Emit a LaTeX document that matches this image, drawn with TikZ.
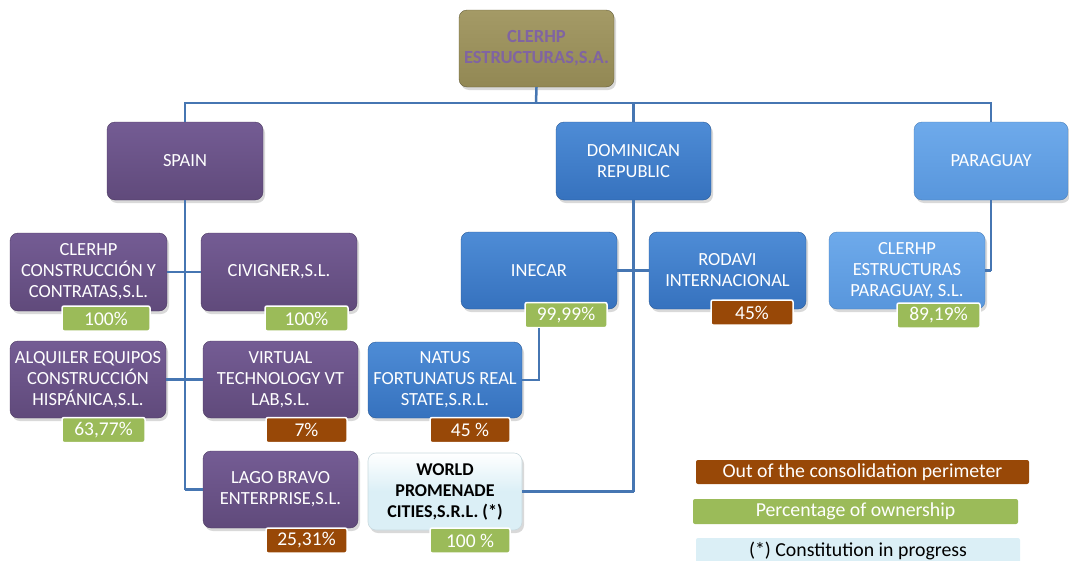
\documentclass[tikz,border=0pt]{standalone}
\usepackage{fontspec}
\setmainfont{Carlito}
\usetikzlibrary{shadows}
\definecolor{purp}{RGB}{96,74,123}
\definecolor{purptop}{RGB}{116,92,148}
\definecolor{blu}{RGB}{54,114,190}
\definecolor{blutop}{RGB}{78,140,214}
\definecolor{lblu}{RGB}{88,150,220}
\definecolor{lblutop}{RGB}{110,170,235}
\definecolor{olv}{RGB}{146,136,84}
\definecolor{olvtop}{RGB}{164,154,102}
\definecolor{ttl}{RGB}{128,100,162}
\definecolor{grn}{RGB}{155,187,89}
\definecolor{brn}{RGB}{152,72,7}
\definecolor{pale}{RGB}{219,239,246}
\definecolor{lin}{RGB}{70,118,178}
\tikzset{
  x=1pt,y=-1pt,
  boxbase/.style={rounded corners=8pt, align=center, inner sep=2pt,
    font=\fontsize{18.5}{21}\selectfont, text=white,
    drop shadow={opacity=0.3,shadow xshift=2pt,shadow yshift=-3pt}},
  purpbox/.style={boxbase, top color=purptop, bottom color=purp, draw=purp!80!black, line width=0.4pt},
  blubox/.style={boxbase, top color=blutop, bottom color=blu, draw=blu!80!black, line width=0.4pt},
  lblubox/.style={boxbase, top color=lblutop, bottom color=lblu, draw=lblu!85!black, line width=0.4pt},
  palebox/.style={boxbase, top color=white, bottom color=pale, middle color=pale, draw=pale!80!gray, line width=0.6pt, text=black, font=\fontsize{18}{21}\selectfont\bfseries},
  olvbox/.style={boxbase, top color=olvtop, bottom color=olv, draw=olv!70!black, line width=0.4pt, text=ttl, font=\fontsize{18.5}{21}\selectfont\bfseries},
  badge/.style={rounded corners=2pt, draw=white, line width=1.5pt, inner sep=0pt, text=white,
    font=\fontsize{19.5}{19.5}\selectfont, minimum height=25pt},
  gbadge/.style={badge, fill=grn},
  bbadge/.style={badge, fill=brn},
  legend/.style={rounded corners=2pt, inner sep=0pt, font=\fontsize{19.8}{19.8}\selectfont, minimum height=25pt},
  conn/.style={draw=lin, line width=2.5pt}
}
\begin{document}
\begin{tikzpicture}
\useasboundingbox (0,0) rectangle (1069,560);
% nodes
\node[olvbox, minimum width=155pt, minimum height=77pt] (root) at (536.5,48.5) {CLERHP\\ESTRUCTURAS,S.A.};
\node[purpbox, minimum width=156pt, minimum height=78pt] (spain) at (185,161) {SPAIN};
\node[blubox, minimum width=155pt, minimum height=78pt] (dom) at (633.5,161) {DOMINICAN\\REPUBLIC};
\node[lblubox, minimum width=154pt, minimum height=78pt] (par) at (991,161) {PARAGUAY};

\coordinate (hub) at (536,103);
\draw[conn] (root.south) -- (hub);
\draw[conn] (spain.north) |- (hub) -| (par.north);
\draw[conn] (dom.north) -- (dom.north |- hub);

\coordinate (spainline) at (185,489.5);
\draw[conn] (spain.south) -- (spainline);
\coordinate (domline) at (633.5,491.5);
\draw[conn] (dom.south) -- (domline);
\coordinate (parline) at (991,270.5);
\draw[conn] (par.south) -- (parline);

\node[purpbox, minimum width=157pt, minimum height=78pt] (cc) at (88.5,272) {CLERHP\\CONSTRUCCIÓN Y\\CONTRATAS,S.L.};
\node[purpbox, minimum width=156pt, minimum height=78pt] (civ) at (279,272) {CIVIGNER,S.L.};
\node[purpbox, minimum width=156pt, minimum height=77pt] (alq) at (88,379.5) {ALQUILER EQUIPOS\\CONSTRUCCIÓN\\HISPÁNICA,S.L.};
\node[purpbox, minimum width=155pt, minimum height=77pt] (vir) at (280.5,379.5) {VIRTUAL\\TECHNOLOGY VT\\LAB,S.L.};
\node[purpbox, minimum width=155pt, minimum height=77pt] (lago) at (280.5,489.5) {LAGO BRAVO\\ENTERPRISE,S.L.};
\node[blubox, minimum width=154pt, minimum height=76pt] (nat) at (445,380) {NATUS\\FORTUNATUS REAL\\STATE,S.R.L.};
\node[palebox, minimum width=154pt, minimum height=77pt] (wpc) at (445,491.5) {WORLD\\PROMENADE\\CITIES,S.R.L. (*)};
\node[blubox, minimum width=156pt, minimum height=77pt] (ine) at (539,270.5) {INECAR};
\node[blubox, minimum width=157pt, minimum height=77pt] (rod) at (727.5,270.5) {RODAVI\\INTERNACIONAL};
\node[lblubox, minimum width=156pt, minimum height=77pt] (cep) at (907,270.5) {CLERHP\\ESTRUCTURAS\\PARAGUAY, S.L.};

% connectors between nodes
\draw[conn] (spainline) -- (lago.west);
\draw[conn] (domline) -- (wpc.east);
\draw[conn] (parline) -- (cep.east);
\draw[conn] (cc.east) -- (civ.west);
\draw[conn] (alq.east) -- (vir.west);
\draw[conn] (ine.east) -- (rod.west);

% badges
\node[gbadge, minimum width=88pt] (b1) at (106,318.5) {100\%};
\node[gbadge, minimum width=83pt] (b2) at (306.5,318.5) {100\%};
\node[gbadge, minimum width=83pt] (b3) at (103.5,430) {63,77\%};
\node[bbadge, minimum width=81pt] (b4) at (306.5,430) {7\%};
\node[bbadge, minimum width=80pt] (b5) at (470,430) {45 \%};
\node[bbadge, minimum width=81pt] (b6) at (306.5,540.5) {25,31\%};
\node[gbadge, minimum width=80pt] (b7) at (470,540.5) {100 \%};
\node[gbadge, minimum width=82pt] (b8) at (566,315) {99,99\%};
\node[bbadge, minimum width=82pt] (b9) at (752,312.5) {45\%};
\node[gbadge, minimum width=83pt] (b10) at (938.5,315.5) {89,19\%};

\draw[conn] (ine.south |- b8.south) |- (nat.east);

% legend
\node[legend, fill=brn, text=white, minimum width=333pt, minimum height=24pt] (l1) at (862.5,472) {Out of the consolidation perimeter};
\node[legend, fill=grn, text=white, minimum width=325pt] (l2) at (855.5,511.5) {Percentage of ownership};
\node[legend, fill=pale, text=black, minimum width=324pt, minimum height=26pt] (l3) at (858,551) {(*) Constitution in progress};
\end{tikzpicture}
\end{document}
